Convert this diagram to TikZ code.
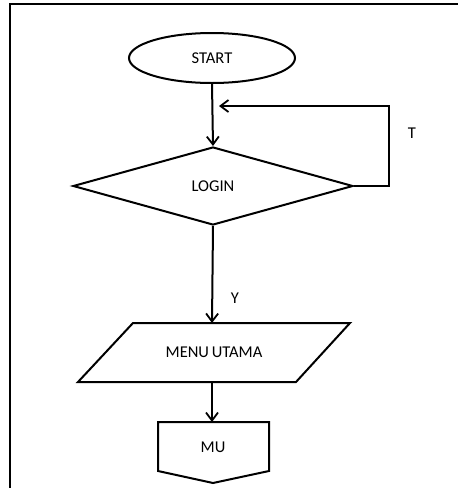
\documentclass[tikz,border=0pt]{standalone}
\usepackage{fontspec}
\setmainfont{Carlito}
\usetikzlibrary{shapes.geometric,arrows.meta}
\begin{document}
\begin{tikzpicture}[x=1pt,y=-1pt,
  line width=2pt,
  flow/.style={-{Straight Barb[length=8pt,width=12pt,line width=1.8pt]}},
  lbl/.style={font=\fontsize{16.5}{18}\selectfont, inner sep=0pt},
  shapebox/.style={draw, line width=2pt, font=\fontsize{16.5}{18}\selectfont, inner sep=0pt}]
  \useasboundingbox (0,0) rectangle (458,488);

  % page frame (top and left edges only)
  \draw[line width=2.2pt] (10,488) -- (10,4) -- (458,4);

  % terminator
  \node[shapebox, ellipse, minimum width=166pt, minimum height=50pt] (start) at (212,58) {START};

  % decision
  \node[shapebox, diamond, aspect=3.6, minimum width=280pt, minimum height=78pt] (login) at (213,186) {LOGIN};

  % input/output block
  \node[lbl] (menu) at (214,352.5) {MENU\kern-1pt\ UTAMA};
  \coordinate (menutop) at (212,323);
  \coordinate (menubot) at (212,382);
  \draw (133,323) -- (350,323) -- (296,382) -- (78,382) -- cycle;

  % off-page connector
  \node[lbl] (mu) at (213,447) {MU};
  \coordinate (mutop) at (212,422);
  \draw (158,422) -- (269,422) -- (269,471) -- (213,483) -- (158,471) -- cycle;

  % connectors
  \coordinate (loopR) at (389,186);
  \coordinate (loopT) at (389,106);
  \coordinate (join) at (219,106);
  \draw[flow] (start.south) -- (login.north);
  \draw[flow] (login.east) -- (loopR) -- (loopT) -- (join);
  \draw[flow] (login.south) -- (menutop);
  \draw[flow] (menubot) -- (mutop);

  % branch labels
  \node[lbl] (tlabel) at (412,133) {T};
  \node[lbl] (ylabel) at (235,298) {Y};
\end{tikzpicture}
\end{document}
